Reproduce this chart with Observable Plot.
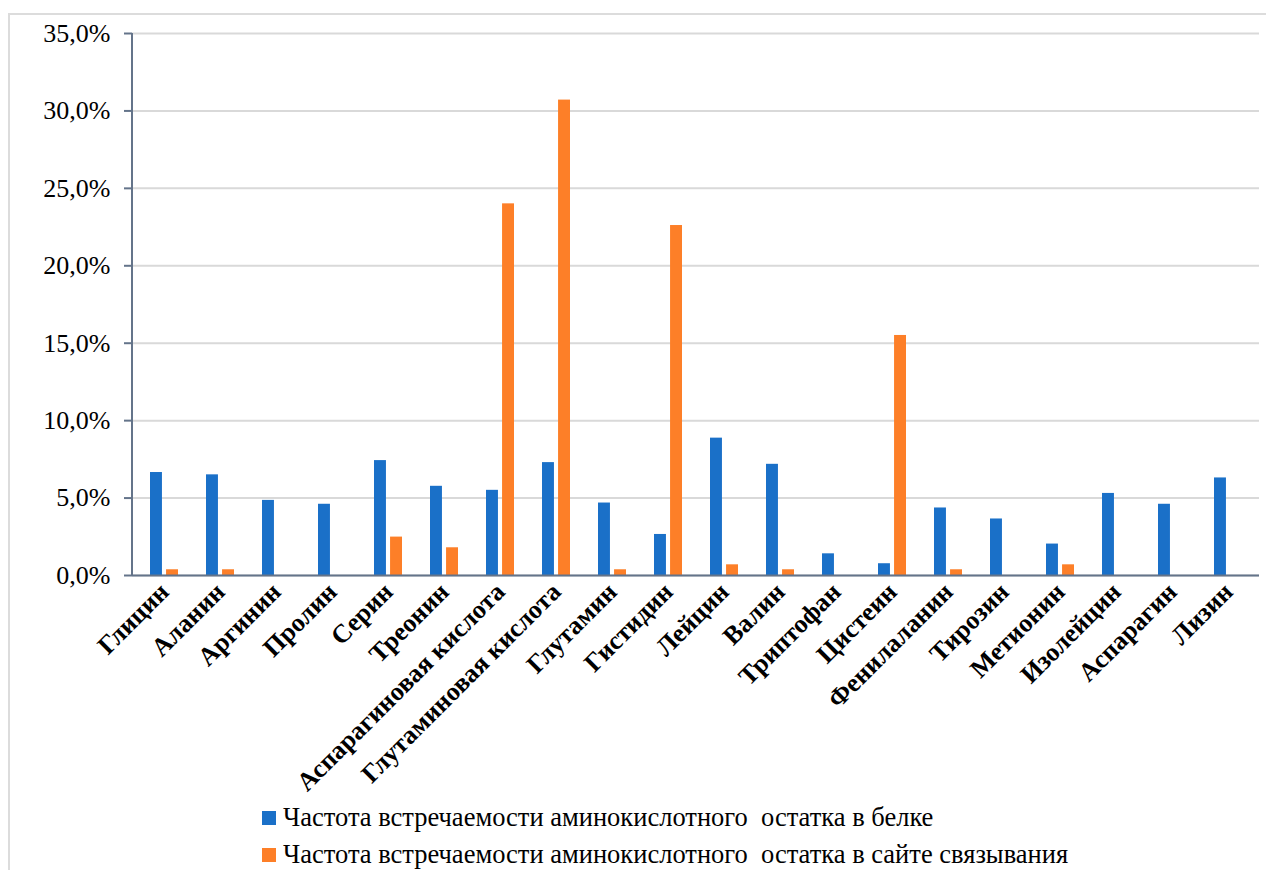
<!DOCTYPE html>
<html><head><meta charset="utf-8">
<script src="https://cdn.jsdelivr.net/npm/d3@7"></script>
<script src="https://cdn.jsdelivr.net/npm/@observablehq/plot@0.6"></script>
<style>
body{margin:0;background:#fff;overflow:hidden;}
#frame{position:absolute;left:8px;top:13px;width:1300px;height:900px;border:2px solid #dcdcdc;box-sizing:border-box;}
#chart{position:absolute;left:0;top:0;}
#legend{position:absolute;left:262px;top:799px;font-family:"Liberation Serif",serif;font-size:26.5px;color:#000;}
.row{display:flex;align-items:center;height:37px;white-space:pre;}
.sw{width:14px;height:14px;margin-right:7px;}
</style></head>
<body>
<div id="frame"></div>
<div id="chart"></div>
<div id="legend"></div>
<script>
const categories = ["Глицин","Аланин","Аргинин","Пролин","Серин","Треонин","Аспарагиновая кислота","Глутаминовая кислота","Глутамин","Гистидин","Лейцин","Валин","Триптофан","Цистеин","Фенилаланин","Тирозин","Метионин","Изолейцин","Аспарагин","Лизин"];
const proteinFreq = [6.65,6.5,4.85,4.6,7.42,5.76,5.5,7.29,4.68,2.65,8.87,7.18,1.4,0.76,4.36,3.65,2.03,5.3,4.6,6.3];
const siteFreq = [0.37,0.37,0,0,2.48,1.79,24.0,30.7,0.37,22.6,0.69,0.37,0,15.5,0.37,0,0.69,0,0,0];
const yTicks = [0,5,10,15,20,25,30,35];
const seriesNames = ["Частота встречаемости аминокислотного  остатка в белке","Частота встречаемости аминокислотного  остатка в сайте связывания"];
const seriesColors = ["#1a70c8","#fd7f28"];

const FONT = '"Liberation Serif",serif';
const data = categories.map((c,i)=>({cat:c, protein:proteinFreq[i], site:siteFreq[i]}));
const W = 1266, H = 790, ML = 132, MR = 7, MT = 33, MB = 215;
const step = (W-ML-MR)/categories.length;
const groupW = step*0.5;
const inset = groupW*0.57;
const axisColor = "#64748a";

const yLine = (index, scales, values, dims) => {
  const ns = "http://www.w3.org/2000/svg";
  const l = document.createElementNS(ns,"line");
  l.setAttribute("x1", dims.marginLeft); l.setAttribute("x2", dims.marginLeft);
  l.setAttribute("y1", dims.marginTop); l.setAttribute("y2", dims.height-dims.marginBottom);
  l.setAttribute("stroke", axisColor); l.setAttribute("stroke-width", 2);
  return l;
};

const chart = Plot.plot({
  width: W, height: H,
  marginLeft: ML, marginRight: MR, marginTop: MT, marginBottom: MB,
  style: {fontFamily: FONT, background: "transparent", overflow: "visible"},
  x: {type: "band", domain: categories, paddingInner: 0.5, paddingOuter: 0.25},
  y: {domain: [0,35], ticks: yTicks},
  marks: [
    Plot.gridY(yTicks, {stroke: "#d9d9d9", strokeOpacity: 1, strokeWidth: 2}),
    Plot.barY(data, {x: "cat", y: "protein", fill: seriesColors[0], insetRight: inset}),
    Plot.barY(data.filter(d=>d.site>0), {x: "cat", y: "site", fill: seriesColors[1], insetLeft: inset}),
    Plot.ruleY([0], {stroke: axisColor, strokeWidth: 2}),
    yLine,
    Plot.axisY(yTicks, {tickSize: 8, tickPadding: 14, fontSize: 26, fontFamily: FONT, stroke: axisColor, strokeWidth: 2, fill: "#000",
      tickFormat: d => d.toFixed(1).replace(".", ",") + "%"}),
    Plot.axisX({tickSize: 0, tickPadding: 12, tickRotate: -45, fontSize: 26, fontFamily: FONT, fontWeight: "bold", fill: "#000", label: null})
  ]
});
document.getElementById("chart").appendChild(chart);

const legend = document.getElementById("legend");
seriesNames.forEach((n,i)=>{
  const r = document.createElement("div"); r.className="row";
  const s = document.createElement("div"); s.className="sw"; s.style.background = seriesColors[i];
  const t = document.createElement("span"); t.textContent = n;
  r.appendChild(s); r.appendChild(t); legend.appendChild(r);
});
</script>
</body></html>
